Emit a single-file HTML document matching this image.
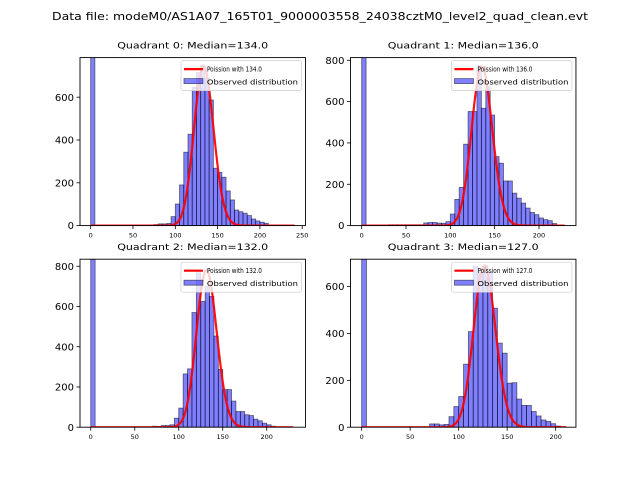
<!DOCTYPE html>
<html><head><meta charset="utf-8"><style>
html,body{margin:0;padding:0;background:#fff;}
svg{display:block;font-family:"DejaVu Sans","Liberation Sans",sans-serif;}
</style></head><body>
<svg id="fig" width="640" height="480" viewBox="0 0 640 480" xmlns="http://www.w3.org/2000/svg">
<rect width="640" height="480" fill="#fff"/>
<text x="320" y="20" font-size="11" text-anchor="middle" textLength="536" lengthAdjust="spacingAndGlyphs">Data file: modeM0/AS1A07_165T01_9000003558_24038cztM0_level2_quad_clean.evt</text>
</svg>
<script>
// bin starts (width 5)
const binStarts0 = [0,70,75,80,85,90,95,100,105,110,115,120,125,130,135,140,145,150,155,160,165,170,175,180,185,190,195,200,205];
const counts0   = [3000,3,5,8,8,10,42,101,190,343,427,646,715,750,690,587,268,249,226,162,120,73,65,58,47,31,22,16,11];
const binStarts1 = [0,30,35,40,45,50,55,60,65,70,75,80,85,90,95,100,105,110,115,120,125,130,135,140,145,150,155,160,165,170,175,180,185,190,195,200,205,210,215];
const counts1   = [3000,4,4,4,4,4,4,4,4,13,15,15,12,11,19,56,127,185,394,552,552,773,568,672,535,334,302,216,216,157,133,109,85,64,53,37,29,24,10];
const binStarts2 = [0,70,75,80,85,90,95,100,105,110,115,120,125,130,135,140,145,150,155,160,165,170,175,180,185,190,195,200,205];
const counts2   = [3000,5,4,8,8,12,45,95,265,290,570,767,625,700,650,453,287,187,187,130,78,78,62,58,40,32,20,12,5];
const binStarts3 = [0,70,75,80,85,90,95,100,105,110,115,120,125,130,135,140,145,150,155,160,165,170,175,180,185,190,195,200];
const counts3   = [3000,14,14,10,12,45,88,131,269,408,686,660,690,660,508,359,316,188,190,120,93,93,67,48,31,25,15,5];
const medians = [134.0,136.0,132.0,127.0];
const poissonScale = [21600,22500,22500,19500];
const curveMaxX = [241,229,230,211];
const yTicks0 = [0,200,400,600];
const yTicks1 = [0,200,400,600,800];
const yTicks2 = [0,200,400,600,800];
const yTicks3 = [0,200,400,600];
const xTicks0 = [0,50,100,150,200,250];
const xTicks1 = [0,50,100,150,200];
const xTicks2 = [0,50,100,150,200];
const xTicks3 = [0,50,100,150,200];

const NS="http://www.w3.org/2000/svg";
const svg=document.getElementById('fig');
function mk(tag,attrs,parent){const e=document.createElementNS(NS,tag);for(const k in attrs)e.setAttribute(k,attrs[k]);(parent||svg).appendChild(e);return e;}

const axesCfg=[
 {L:80,T:57.6,xmin:-12.6,xmax:253.8,ymax:785,bs:binStarts0,c:counts0,yt:yTicks0,xt:xTicks0},
 {L:350.5,T:57.6,xmin:-12.6,xmax:241.7,ymax:813,bs:binStarts1,c:counts1,yt:yTicks1,xt:xTicks1},
 {L:80,T:259.2,xmin:-12.2,xmax:244,ymax:835,bs:binStarts2,c:counts2,yt:yTicks2,xt:xTicks2},
 {L:350.5,T:259.2,xmin:-11.5,xmax:220.9,ymax:717,bs:binStarts3,c:counts3,yt:yTicks3,xt:xTicks3}
];
const W=225.45,H=168,BW=5;

axesCfg.forEach((a,i)=>{
 const g=mk('g',{});
 
 
 const xs=v=>a.L+(v-a.xmin)/(a.xmax-a.xmin)*W;
 const ys=v=>a.T+H-v/a.ymax*H;
 const cid='clip'+i;
 const cp=mk('clipPath',{id:cid},g);mk('rect',{x:a.L,y:a.T,width:W,height:H},cp);
 const plot=mk('g',{'clip-path':'url(#'+cid+')'},g);
 a.bs.forEach((b,j)=>{
  const r=mk('rect',{x:xs(b),y:ys(a.c[j]),width:xs(b+BW)-xs(b),height:ys(0)-ys(a.c[j]),fill:'rgba(0,0,255,0.5)',stroke:'rgba(0,0,0,0.55)','stroke-width':0.8},plot);
  
  
 });
 const lam=medians[i];let pts=[];let logp=-lam;
 for(let k=0;k<=curveMaxX[i];k++){ if(k>0) logp+=Math.log(lam)-Math.log(k); const v=poissonScale[i]*Math.exp(logp); pts.push(xs(k).toFixed(2)+','+ys(v).toFixed(2)); }
 const pl=mk('polyline',{points:pts.join(' '),fill:'none',stroke:'rgba(255,0,0,0.92)','stroke-width':2.2,'stroke-linejoin':'round'},plot);
 
 
 const fr=mk('rect',{x:a.L,y:a.T,width:W,height:H,fill:'none',stroke:'#000','stroke-width':0.9},g);
 
 
 a.yt.forEach(t=>{const y=ys(t);mk('line',{x1:a.L-3.5,x2:a.L,y1:y,y2:y,stroke:'#000','stroke-width':0.8},g);
  const tx=mk('text',{x:a.L-6,y:y+3.6,'font-size':10,'text-anchor':'end'},g);tx.textContent=t;
  
  });
 a.xt.forEach(t=>{const x=xs(t);mk('line',{x1:x,x2:x,y1:a.T+H,y2:a.T+H+3.5,stroke:'#000','stroke-width':0.8},g);
  const tx=mk('text',{x:x,y:a.T+H+12,'font-size':6.5,'text-anchor':'middle'},g);tx.textContent=t;
  
  });
 const ti=mk('text',{x:a.L+W/2,y:a.T-9,'font-size':8.5,'text-anchor':'middle',textLength:151,lengthAdjust:'spacingAndGlyphs'},g);
 ti.textContent='Quadrant '+i+': Median='+medians[i].toFixed(1);
 
 
 const lg=mk('g',{},g);
 
 
 const lx=a.L+W-124.5, ly=a.T+3;
 mk('rect',{x:lx,y:ly,width:120.5,height:30,rx:2,fill:'rgba(255,255,255,0.8)',stroke:'#ccc','stroke-width':0.7},lg);
 mk('line',{x1:lx+3,x2:lx+22,y1:ly+8.5,y2:ly+8.5,stroke:'red','stroke-width':2.2},lg);
 const t1=mk('text',{x:lx+26,y:ly+11,'font-size':6.8,textLength:55,lengthAdjust:'spacingAndGlyphs'},lg);t1.textContent='Poission with '+medians[i].toFixed(1);
 
 
 mk('rect',{x:lx+3,y:ly+18,width:19,height:5,fill:'rgba(0,0,255,0.5)',stroke:'rgba(0,0,0,0.55)','stroke-width':0.8},lg);
 const t2=mk('text',{x:lx+26,y:ly+24,'font-size':6.8,textLength:91,lengthAdjust:'spacingAndGlyphs'},lg);t2.textContent='Observed distribution';
 
 
});
</script>
</body></html>
